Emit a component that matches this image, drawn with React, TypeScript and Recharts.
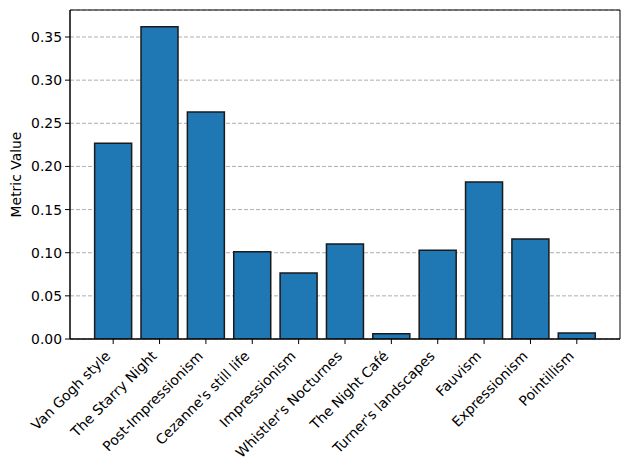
import React from "react";
import { BarChart, Bar, XAxis, YAxis, CartesianGrid, ReferenceArea } from "recharts";

const categories = [
  "Van Gogh style",
  "The Starry Night",
  "Post-Impressionism",
  "Cezanne's still life",
  "Impressionism",
  "Whistler's Nocturnes",
  "The Night Café",
  "Turner's landscapes",
  "Fauvism",
  "Expressionism",
  "Pointillism",
];
const values = [0.227, 0.362, 0.263, 0.101, 0.0765, 0.11, 0.006, 0.103, 0.182, 0.116, 0.007];
const yTicks = [0, 0.05, 0.1, 0.15, 0.2, 0.25, 0.3, 0.35];
const Y_MAX = 0.3813;

const data = categories.map((name, i) => ({ name, value: values[i] }));

const FONT = "DejaVu Sans";

const XTick = (props: any) => {
  const { x, y, payload } = props;
  return (
    <g>
      <line x1={x} x2={x} y1={y - 8} y2={y - 3} stroke="#000" strokeWidth={1} />
      <text
        x={x - 2}
        y={y + 10}
        transform={`rotate(-45, ${x - 2}, ${y + 10})`}
        textAnchor="end"
        fontFamily={FONT}
        fontSize={13.9}
        fill="#000"
      >
        {payload.value}
      </text>
    </g>
  );
};

export default function App() {
  return (
    <div style={{ position: "absolute", left: 0, top: 0, width: 630, height: 470, background: "#fff" }}>
      <BarChart
        width={630}
        height={470}
        data={data}
        margin={{ top: 10, right: 10, left: 0, bottom: 0 }}
        barCategoryGap="10%"
      >
        <CartesianGrid
          horizontal={true}
          vertical={false}
          stroke="#999999"
          strokeDasharray="4 2"
          strokeWidth={0.8}
        />
        <XAxis
          dataKey="name"
          interval={0}
          height={131}
          padding={{ left: 20, right: 20 }}
          axisLine={{ stroke: "#000", strokeWidth: 1 }}
          tickLine={false}
          tick={<XTick />}
        />
        <XAxis xAxisId="frame" type="number" domain={[0, 1]} allowDataOverflow hide />
        <YAxis
          width={70}
          domain={[0, Y_MAX]}
          ticks={yTicks}
          type="number"
          allowDataOverflow
          tickFormatter={(v: number) => v.toFixed(2)}
          axisLine={{ stroke: "#000", strokeWidth: 1 }}
          tickLine={{ stroke: "#000", strokeWidth: 1 }}
          tickSize={5}
          tickMargin={3}
          tick={{ fontFamily: FONT, fontSize: 13.9, fill: "#000" }}
          label={{
            value: "Metric Value",
            angle: -90,
            position: "insideLeft",
            offset: 16,
            style: { fontFamily: FONT, fontSize: 13.9, fill: "#000", textAnchor: "middle" },
          }}
        />
        <Bar
          dataKey="value"
          fill="#1f77b4"
          stroke="#1a1a1a"
          strokeWidth={1.5}
          isAnimationActive={false}
        />
        <ReferenceArea
          xAxisId="frame"
          y1={0}
          y2={Y_MAX}
          fill="none"
          fillOpacity={0}
          stroke="#000"
          strokeWidth={1}
          ifOverflow="visible"
        />
      </BarChart>
    </div>
  );
}
